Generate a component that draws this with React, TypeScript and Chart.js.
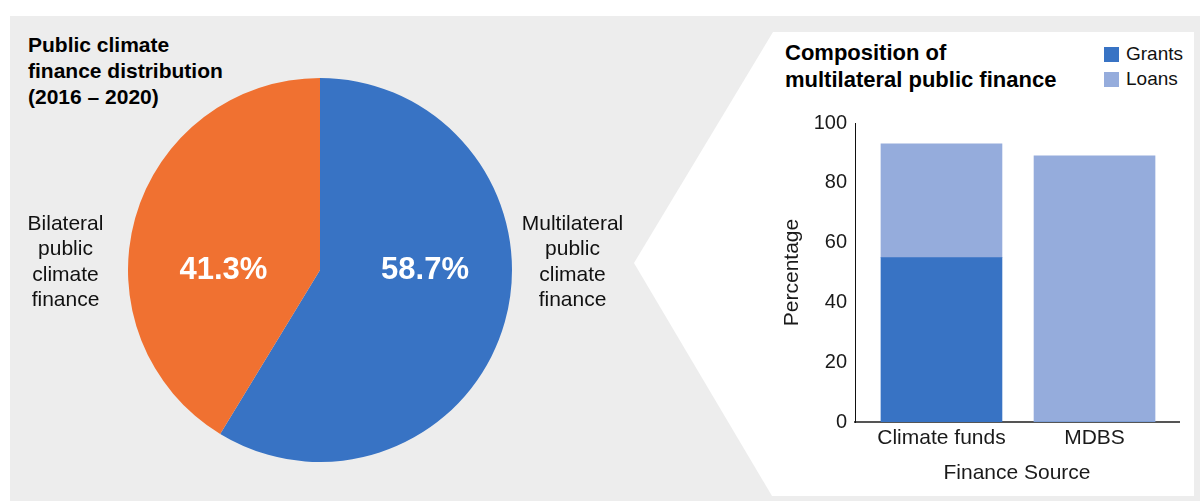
import React, { useEffect, useRef } from "react";
import { Chart, registerables } from "chart.js";

Chart.register(...registerables);

// ---- data ----
const pieLabels = ["Multilateral public climate finance", "Bilateral public climate finance"];
const pieValues = [58.7, 41.3];
const pieColors = ["#3873C4", "#F07131"];
const multilateralLines = ["Multilateral", "public", "climate", "finance"];
const bilateralLines = ["Bilateral", "public", "climate", "finance"];

const categories = ["Climate funds", "MDBS"];
const grantsValues = [55, 0];
const loansValues = [38, 89];
const seriesNames = ["Grants", "Loans"];
const seriesColors = ["#3873C4", "#95ACDC"];
const yTickValues = [0, 20, 40, 60, 80, 100];

const FONT = "'Liberation Sans', Arial, Helvetica, sans-serif";

const pieLabelPlugin = {
  id: "pieLabelPlugin",
  afterDatasetsDraw(chart: any) {
    const meta = chart.getDatasetMeta(0);
    const ctx = chart.ctx;
    const factors = [0.547, 0.503];
    ctx.save();
    ctx.fillStyle = "#ffffff";
    ctx.font = `bold 31px ${FONT}`;
    ctx.textAlign = "center";
    ctx.textBaseline = "middle";
    meta.data.forEach((arc: any, i: number) => {
      const mid = (arc.startAngle + arc.endAngle) / 2;
      const dir = Math.cos(mid) >= 0 ? 1 : -1;
      const x = arc.x + dir * arc.outerRadius * factors[i];
      const y = arc.y;
      const v = chart.data.datasets[0].data[i];
      ctx.fillText(`${v.toFixed(1)}%`, x, y);
    });
    ctx.restore();
  },
};

function PieChart() {
  const ref = useRef<HTMLCanvasElement>(null);
  useEffect(() => {
    if (!ref.current) return;
    const chart = new Chart(ref.current, {
      type: "pie",
      data: {
        labels: pieLabels,
        datasets: [
          {
            data: pieValues,
            backgroundColor: pieColors,
            borderWidth: 0,
          },
        ],
      },
      options: {
        animation: false,
        responsive: false,
        maintainAspectRatio: false,
        layout: { padding: 0 },
        plugins: { legend: { display: false }, tooltip: { enabled: false } },
      },
      plugins: [pieLabelPlugin],
    });
    return () => chart.destroy();
  }, []);
  return (
    <canvas
      ref={ref}
      width={384}
      height={384}
      style={{ position: "absolute", left: 128, top: 78, width: 384, height: 384 }}
    />
  );
}

function BarChart() {
  const ref = useRef<HTMLCanvasElement>(null);
  useEffect(() => {
    if (!ref.current) return;
    const toPoints = (vals: number[]) => vals.map((v, i) => ({ x: i, y: v }));
    const chart = new Chart(ref.current, {
      type: "bar",
      data: {
        datasets: [
          {
            label: seriesNames[0],
            data: toPoints(grantsValues),
            backgroundColor: seriesColors[0],
            borderWidth: 0,
            barThickness: 121,
          },
          {
            label: seriesNames[1],
            data: toPoints(loansValues),
            backgroundColor: seriesColors[1],
            borderWidth: 0,
            barThickness: 121,
          },
        ],
      },
      options: {
        animation: false,
        responsive: false,
        maintainAspectRatio: false,
        layout: { padding: { left: 0, right: 11, top: 23, bottom: 0 } },
        plugins: { legend: { display: false }, tooltip: { enabled: false } },
        scales: {
          x: {
            type: "linear",
            stacked: true,
            offset: false,
            min: -0.565,
            max: 1.552,
            afterBuildTicks(scale: any) {
              scale.ticks = categories.map((_, i) => ({ value: i }));
            },
            grid: { display: false, drawTicks: false },
            border: { display: true, color: "#555555", width: 2 },
            ticks: {
              color: "#1a1a1a",
              font: { family: FONT, size: 21 },
              padding: 4,
              autoSkip: false,
              maxRotation: 0,
              callback: (v: any) => categories[Math.round(Number(v))] ?? "",
            },
            title: {
              display: true,
              text: "Finance Source",
              color: "#1a1a1a",
              font: { family: FONT, size: 21 },
              padding: { top: 0, bottom: 9 },
            },
            afterFit(scale: any) {
              scale.height = 73;
            },
          },
          y: {
            stacked: true,
            min: 0,
            max: 100,
            afterBuildTicks(scale: any) {
              scale.ticks = yTickValues.map((v) => ({ value: v }));
            },
            grid: { display: false, drawTicks: false },
            border: { display: true, color: "#111111", width: 1 },
            ticks: { color: "#1a1a1a", font: { family: FONT, size: 20 }, padding: 8 },
            title: {
              display: true,
              text: "Percentage",
              color: "#1a1a1a",
              font: { family: FONT, size: 21 },
              padding: { top: 10, bottom: 0 },
            },
            afterFit(scale: any) {
              scale.width = 85;
            },
          },
        },
      },
    });
    return () => chart.destroy();
  }, []);
  return (
    <canvas
      ref={ref}
      width={420}
      height={395}
      style={{ position: "absolute", left: 770, top: 100, width: 420, height: 395 }}
    />
  );
}

function SideLabel({ lines, centerX }: { lines: string[]; centerX: number }) {
  return (
    <div
      style={{
        position: "absolute",
        left: centerX - 70,
        top: 209.5,
        width: 140,
        textAlign: "center",
        fontFamily: FONT,
        fontSize: 21,
        lineHeight: "25.5px",
        color: "#111",
      }}
    >
      {lines.map((l, i) => (
        <div key={i}>{l}</div>
      ))}
    </div>
  );
}

export default function App() {
  return (
    <div
      style={{
        position: "absolute",
        left: 0,
        top: 0,
        width: 1200,
        height: 501,
        background: "#ffffff",
        overflow: "hidden",
      }}
    >
      <div
        style={{
          position: "absolute",
          left: 10,
          top: 16,
          width: 1190,
          height: 485,
          background: "#EDEDED",
        }}
      />
      <div
        style={{
          position: "absolute",
          left: 634,
          top: 32,
          width: 560,
          height: 464,
          background: "#ffffff",
          clipPath: "polygon(139px 0px, 560px 0px, 560px 464px, 138px 464px, 0px 231px)",
        }}
      />
      <div
        style={{
          position: "absolute",
          left: 28,
          top: 32,
          fontFamily: FONT,
          fontWeight: "bold",
          fontSize: 21,
          lineHeight: "26px",
          color: "#000",
          whiteSpace: "nowrap",
        }}
      >
        <div>Public climate</div>
        <div>finance distribution</div>
        <div>(2016 – 2020)</div>
      </div>
      <PieChart />
      <SideLabel lines={bilateralLines} centerX={65.5} />
      <SideLabel lines={multilateralLines} centerX={572.5} />
      <div
        style={{
          position: "absolute",
          left: 785,
          top: 40,
          fontFamily: FONT,
          fontWeight: "bold",
          fontSize: 22,
          lineHeight: "26.5px",
          color: "#000",
          whiteSpace: "nowrap",
        }}
      >
        <div>Composition of</div>
        <div>multilateral public finance</div>
      </div>
      {seriesNames.map((name, i) => (
        <div
          key={name}
          style={{
            position: "absolute",
            left: 1104,
            top: 46 + i * 25,
            height: 16,
            display: "flex",
            alignItems: "center",
            fontFamily: FONT,
            fontSize: 19,
            color: "#111",
            whiteSpace: "nowrap",
          }}
        >
          <span
            style={{
              display: "inline-block",
              width: 15,
              height: 15,
              background: seriesColors[i],
              marginRight: 7,
            }}
          />
          <span>{name}</span>
        </div>
      ))}
      <BarChart />
    </div>
  );
}
